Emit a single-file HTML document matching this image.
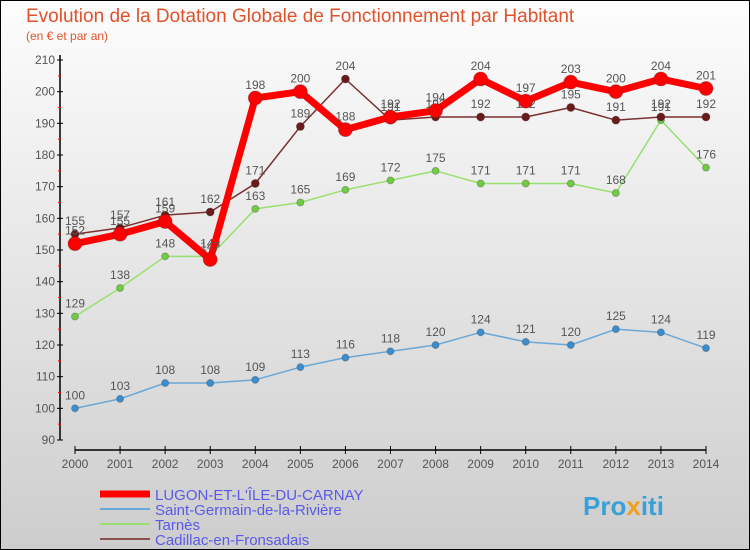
<!DOCTYPE html>
<html><head><meta charset="utf-8"><style>
body{margin:0;width:750px;height:550px;overflow:hidden;font-family:"Liberation Sans",sans-serif}
svg{display:block}
</style></head><body>
<svg id="c" width="750" height="550" xmlns="http://www.w3.org/2000/svg">
<defs><linearGradient id="bg" x1="0" y1="0" x2="0" y2="1"><stop offset="0" stop-color="#fdfdfd"/><stop offset="1" stop-color="#cdcdcd"/></linearGradient></defs>
<rect x="0" y="0" width="750" height="550" fill="url(#bg)" stroke="#000" stroke-width="2"/>
<text x="26" y="22" font-size="19" fill="#e0522a">Evolution de la Dotation Globale de Fonctionnement par Habitant</text>
<text x="26" y="40" font-size="12" fill="#e0522a">(en € et par an)</text>
<g id="axes"></g><g id="series"></g><g id="legend"></g>
<text x="583" y="515" font-size="26" font-weight="bold" fill="#3aa0d8">Pro<tspan fill="#f0a020">x</tspan>iti</text>
</svg>
<script>
const years=[2000,2001,2002,2003,2004,2005,2006,2007,2008,2009,2010,2011,2012,2013,2014];
const lugon=[152,155,159,147,198,200,188,192,194,204,197,203,200,204,201];
const stGermain=[100,103,108,108,109,113,116,118,120,124,121,120,125,124,119];
const tarnes=[129,138,148,148,163,165,169,172,175,171,171,171,168,191,176];
const cadillac=[155,157,161,162,171,189,204,191,192,192,192,195,191,192,192];
const yTicks=[90,100,110,120,130,140,150,160,170,180,190,200,210];
const names=["LUGON-ET-L'ÎLE-DU-CARNAY","Saint-Germain-de-la-Rivière","Tarnès","Cadillac-en-Fronsadais"];
const NS="http://www.w3.org/2000/svg";
const X=i=>75+i*(706-75)/14;
const Y=v=>440-(v-90)*380/120;
function el(t,a,p){const e=document.createElementNS(NS,t);for(const k in a)e.setAttribute(k,a[k]);p.appendChild(e);return e;}
const ax=document.getElementById('axes');
let l=el('line',{x1:60,y1:55,x2:60,y2:440,stroke:'#000','stroke-width':1.5},ax);


l=el('line',{x1:75,y1:450,x2:706,y2:450,stroke:'#000','stroke-width':1.5},ax);


yTicks.forEach((v,i)=>{
 el('line',{x1:57,y1:Y(v),x2:63,y2:Y(v),stroke:'#000'},ax);
 const t=el('text',{x:55,y:Y(v)+4,'text-anchor':'end','font-size':12,fill:'#555'},ax);t.textContent=v;
 
 
 if(i<yTicks.length-1)el('line',{x1:58,y1:Y(v+5),x2:61,y2:Y(v+5),stroke:'#f00'},ax);
});
years.forEach((y,i)=>{
 el('line',{x1:X(i),y1:446,x2:X(i),y2:454,stroke:'#000'},ax);
 const t=el('text',{x:X(i),y:468,'text-anchor':'middle','font-size':12,fill:'#555'},ax);t.textContent=y;
 
 
});
const sg=document.getElementById('series');
const defs=[[stGermain,'#6aa8d8','#3a8ed0',1.5,3.5,'series-saint-germain'],[tarnes,'#98e070','#70cc40',1.5,3.5,'series-tarnes'],[cadillac,'#7a3030','#6a1a1a',1.5,4,'series-cadillac'],[lugon,'#ff0000','#ff0000',7,7,'series-lugon']];
defs.forEach(([d,lc,pc,w,r,n])=>{
 const g=el('g',{},sg);
 
 
 el('polyline',{points:d.map((v,i)=>X(i)+','+Y(v)).join(' '),fill:'none',stroke:lc,'stroke-width':w,'stroke-linejoin':'round'},g);
 d.forEach((v,i)=>{
  const c=el('circle',{cx:X(i),cy:Y(v),r:r,fill:pc,stroke:'#333','stroke-opacity':0.3},g);
  
  
  const t=el('text',{x:X(i),y:Y(v)-9,'text-anchor':'middle','font-size':12,fill:'#555'},g);t.textContent=v;
 });
});
const lg=document.getElementById('legend');
[['#ff0000',7],['#6aa8d8',2],['#98e070',2],['#8a5050',2]].forEach(([c,w],i)=>{
 const y=494+i*15;
 const g=el('g',{},lg);
 
 
 el('line',{x1:100,y1:y,x2:150,y2:y,stroke:c,'stroke-width':w},g);
 const t=el('text',{x:155,y:y+6,'font-size':15,fill:'#5a5ae8'},g);t.textContent=names[i];
});
</script>
</body></html>
